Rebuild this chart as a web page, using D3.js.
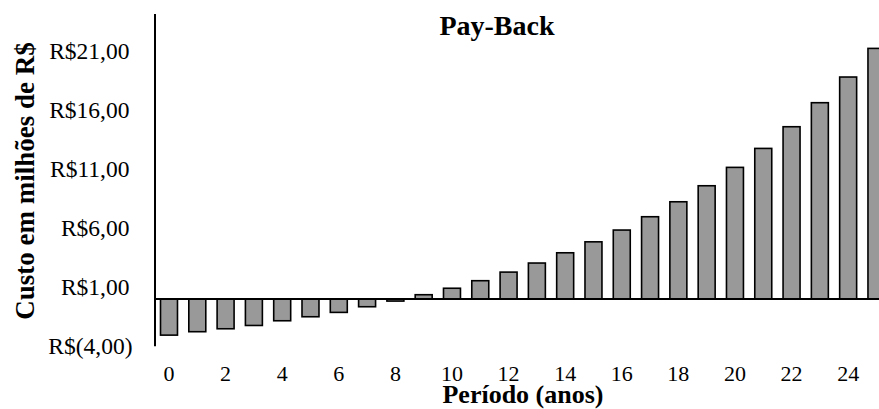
<!DOCTYPE html>
<html>
<head>
<meta charset="utf-8">
<script src="https://cdn.jsdelivr.net/npm/d3@7/dist/d3.min.js"></script>
<style>
  html, body { margin: 0; padding: 0; background: #fff; }
  svg { display: block; font-family: "Liberation Serif", "Times New Roman", serif; }
</style>
</head>
<body>
<svg id="chart" width="879" height="409"></svg>
<script>
// Cumulative cash balance per year (millions of R$)
const periods = d3.range(0, 26);
const balance = [
  -3.06, -2.77, -2.52, -2.24, -1.84, -1.50, -1.13, -0.65, -0.17, 0.37,
  0.92, 1.56, 2.29, 3.06, 3.93, 4.86, 5.86, 6.99, 8.26, 9.62,
  11.18, 12.79, 14.63, 16.67, 18.85, 21.28
];
const yTicks = [-4, 1, 6, 11, 16, 21];
const yTickLabels = ["R$(4,00)", "R$1,00", "R$6,00", "R$11,00", "R$16,00", "R$21,00"];
const xTicks = [0, 2, 4, 6, 8, 10, 12, 14, 16, 18, 20, 22, 24];

const title = "Pay-Back";
const xTitle = "Período (anos)";
const yTitle = "Custo em milhões de R$";

const svg = d3.select("#chart");

const x = d3.scaleBand()
  .domain(periods)
  .range([154.85, 890.6])
  .paddingInner(0.4)
  .paddingOuter(0.2);

const y = d3.scaleLinear()
  .domain([-4, 24.2])
  .range([346.2, 14]);

// Bars
svg.append("g")
  .selectAll("rect")
  .data(periods)
  .join("rect")
  .attr("x", d => x(d))
  .attr("width", x.bandwidth())
  .attr("y", d => Math.min(y(balance[d]), y(0)))
  .attr("height", d => Math.abs(y(balance[d]) - y(0)))
  .attr("fill", "#999999")
  .attr("stroke", "#000")
  .attr("stroke-width", 1.6);

// Zero baseline
svg.append("line")
  .attr("x1", 155).attr("x2", 879)
  .attr("y1", y(0)).attr("y2", y(0))
  .attr("stroke", "#000").attr("stroke-width", 2);

// Vertical axis line
svg.append("line")
  .attr("x1", 155).attr("x2", 155)
  .attr("y1", y.range()[1]).attr("y2", y.range()[0])
  .attr("stroke", "#000").attr("stroke-width", 2);

// Y tick labels (accounting style: positives leave room for the closing parenthesis)
svg.append("g")
  .selectAll("text")
  .data(yTicks)
  .join("text")
  .attr("x", d => d < 0 ? 132.5 : 129.5)
  .attr("y", d => y(d))
  .attr("dy", "0.33em")
  .attr("text-anchor", "end")
  .attr("font-size", 23.5)
  .attr("fill", "#000")
  .text((d, i) => yTickLabels[i]);

// X tick labels
svg.append("g")
  .selectAll("text")
  .data(xTicks)
  .join("text")
  .attr("x", d => x(d) + x.bandwidth() / 2)
  .attr("y", 381)
  .attr("text-anchor", "middle")
  .attr("font-size", 22)
  .attr("fill", "#000")
  .text(d => d);

// Titles
svg.append("text")
  .attr("x", 497).attr("y", 35)
  .attr("text-anchor", "middle")
  .attr("font-size", 28)
  .attr("font-weight", "bold")
  .text(title);

svg.append("text")
  .attr("x", 523).attr("y", 403)
  .attr("text-anchor", "middle")
  .attr("font-size", 26)
  .attr("font-weight", "bold")
  .text(xTitle);

svg.append("text")
  .attr("transform", "translate(34,181) rotate(-90)")
  .attr("text-anchor", "middle")
  .attr("font-size", 27)
  .attr("font-weight", "bold")
  .text(yTitle);
</script>
</body>
</html>
